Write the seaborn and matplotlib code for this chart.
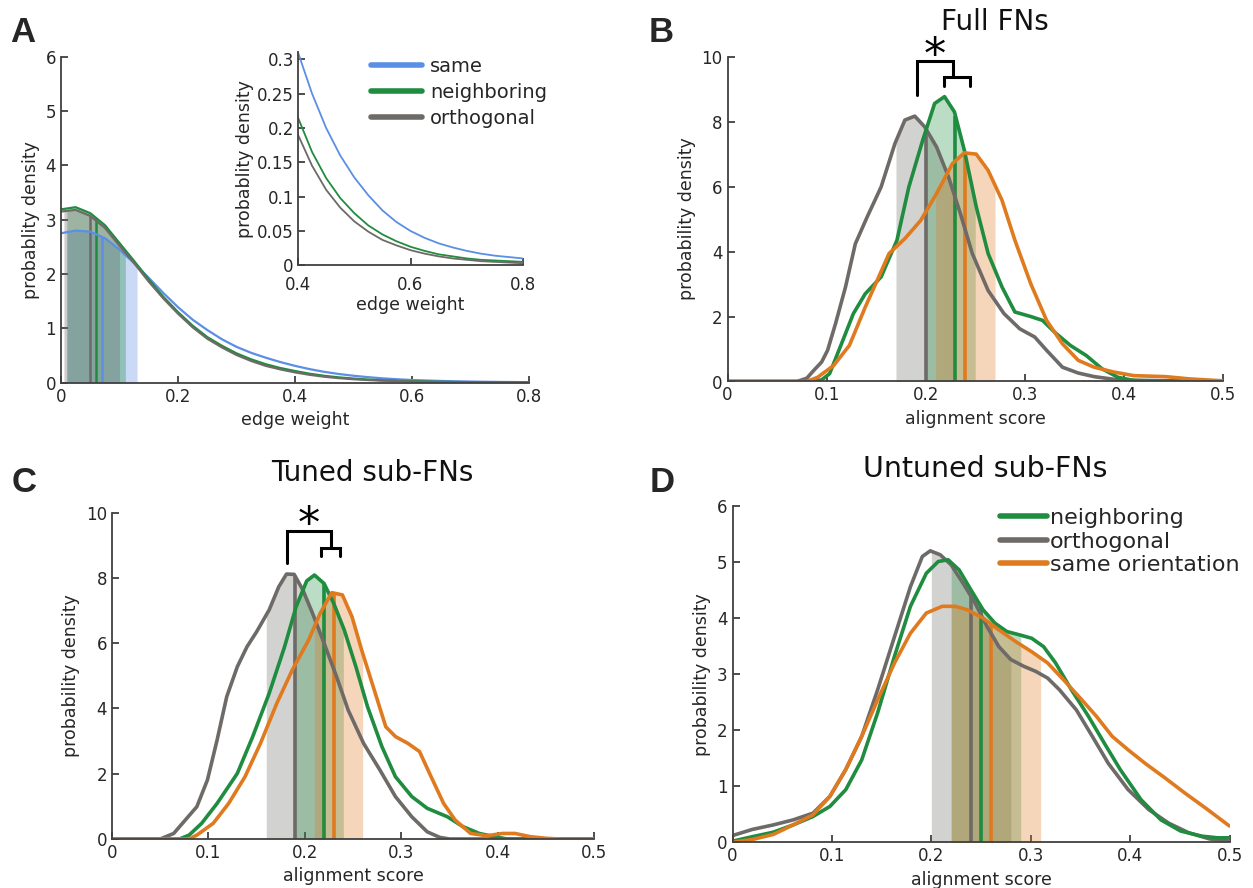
import numpy as np
import pandas as pd
import matplotlib
matplotlib.use("Agg")
import matplotlib.pyplot as plt
import seaborn as sns
from matplotlib.lines import Line2D

# ---------------- data ----------------
# Panel A: edge-weight densities
a_x = [0, .025, .05, .075, .1, .125, .15, .175, .2, .225, .25, .275, .3, .325, .35, .375, .4,
       .425, .45, .475, .5, .525, .55, .575, .6, .625, .65, .675, .7, .725, .75, .775, .8]
a_same = [2.75, 2.80, 2.78, 2.66, 2.45, 2.20, 1.93, 1.65, 1.39, 1.16, 0.97, 0.80, 0.66, 0.55, 0.46, 0.38, 0.31,
          0.25, 0.20, 0.16, 0.128, 0.102, 0.080, 0.063, 0.050, 0.040, 0.032, 0.026, 0.021, 0.017, 0.014, 0.012, 0.010]
a_neigh = [3.19, 3.23, 3.12, 2.90, 2.57, 2.24, 1.90, 1.58, 1.30, 1.05, 0.84, 0.68, 0.54, 0.43, 0.34, 0.27, 0.215,
           0.165, 0.127, 0.098, 0.076, 0.058, 0.045, 0.035, 0.027, 0.021, 0.016, 0.013, 0.010, 0.008, 0.007, 0.006, 0.005]
a_orth = [3.15, 3.18, 3.07, 2.85, 2.52, 2.20, 1.86, 1.55, 1.27, 1.02, 0.81, 0.65, 0.51, 0.40, 0.31, 0.245, 0.19,
          0.145, 0.11, 0.084, 0.064, 0.049, 0.037, 0.029, 0.022, 0.017, 0.013, 0.010, 0.008, 0.006, 0.005, 0.004, 0.003]
a_median = {"same": 0.07, "neighboring": 0.06, "orthogonal": 0.05}
a_range = {"same": (0.01, 0.13), "neighboring": (0.01, 0.11), "orthogonal": (0.005, 0.10)}

# Panel B: Full FNs
b_orth_x = [0, .07, .08, .087, .095, .101, .109, .119, .129, .141, .155, .169, .179, .189, .199, .211, .223, .235,
            .247, .263, .279, .295, .31, .322, .338, .354, .37, .394, .42, .46, .5]
b_orth_y = [0, 0, 0.1, 0.34, 0.6, 0.96, 1.78, 2.9, 4.24, 5.07, 5.99, 7.33, 8.05, 8.17, 7.84, 7.22, 6.3, 5.17,
            3.94, 2.8, 2.09, 1.62, 1.37, 0.96, 0.44, 0.26, 0.15, 0.05, 0.03, 0.02, 0.0]
b_neigh_x = [0, .085, .095, .103, .115, .127, .139, .155, .171, .183, .197, .209, .219, .229, .239, .251, .263,
             .277, .29, .306, .318, .33, .346, .362, .378, .394, .41, .5]
b_neigh_y = [0, 0, 0.05, 0.24, 1.16, 2.09, 2.7, 3.22, 4.35, 5.99, 7.43, 8.56, 8.77, 8.3, 7.12, 5.38, 3.94,
             2.91, 2.14, 2.0, 1.88, 1.52, 1.11, 0.8, 0.39, 0.13, 0.03, 0.0]
b_same_x = [0, .08, .091, .107, .123, .139, .151, .163, .179, .195, .211, .227, .239, .251, .263, .277, .29,
            .306, .322, .338, .354, .37, .39, .41, .442, .466, .5]
b_same_y = [0, 0, 0.13, 0.49, 1.11, 2.29, 3.11, 3.94, 4.4, 4.96, 5.79, 6.71, 7.04, 7.0, 6.5, 5.58, 4.35,
            3.01, 1.88, 1.16, 0.65, 0.44, 0.29, 0.18, 0.15, 0.08, 0.02]
b_median = {"neighboring": 0.23, "orthogonal": 0.20, "same": 0.24}
b_range = {"neighboring": (0.20, 0.25), "orthogonal": (0.17, 0.23), "same": (0.21, 0.27)}

# Panel C: Tuned sub-FNs
c_orth_x = [0, .05, .064, .076, .088, .099, .109, .119, .13, .14, .15, .163, .173, .181, .189, .198, .208, .22,
            .233, .245, .261, .278, .294, .311, .327, .34, .35, .5]
c_orth_y = [0, 0, 0.17, 0.58, 0.99, 1.81, 3.03, 4.36, 5.28, 5.89, 6.35, 7.02, 7.73, 8.12, 8.11, 7.63, 6.92, 6.0,
            4.97, 3.95, 2.93, 2.11, 1.3, 0.68, 0.22, 0.05, 0.0, 0.0]
c_neigh_x = [0, .07, .08, .093, .109, .13, .146, .163, .179, .191, .202, .21, .22, .23, .241, .253, .265, .28,
             .294, .311, .327, .348, .364, .381, .397, .41, .5]
c_neigh_y = [0, 0, 0.12, 0.48, 1.09, 2.01, 3.14, 4.46, 5.89, 7.12, 7.91, 8.09, 7.83, 7.22, 6.4, 5.28, 4.06, 2.83,
             1.91, 1.3, 0.94, 0.68, 0.38, 0.17, 0.07, 0.0, 0.0]
c_same_x = [0, .08, .088, .105, .121, .138, .154, .171, .187, .204, .216, .228, .239, .249, .259, .272, .284,
            .294, .307, .319, .331, .344, .356, .372, .389, .405, .418, .434, .451, .465, .5]
c_same_y = [0, 0, 0.12, 0.48, 1.09, 1.91, 2.93, 4.16, 5.18, 6.1, 6.92, 7.55, 7.48, 6.81, 5.79, 4.57, 3.44,
            3.14, 2.93, 2.68, 1.91, 1.09, 0.58, 0.17, 0.1, 0.17, 0.17, 0.07, 0.02, 0.0, 0.0]
c_median = {"neighboring": 0.22, "orthogonal": 0.19, "same": 0.23}
c_range = {"neighboring": (0.19, 0.24), "orthogonal": (0.16, 0.22), "same": (0.21, 0.26)}

# Panel D: Untuned sub-FNs
d_orth_x = [0, .02, .041, .061, .081, .098, .114, .13, .146, .163, .179, .191, .199, .209, .22, .232, .244, .256,
            .268, .28, .293, .305, .317, .329, .346, .362, .378, .398, .419, .439, .459, .48, .5]
d_orth_y = [0.12, 0.23, 0.31, 0.4, 0.52, 0.82, 1.3, 1.89, 2.72, 3.67, 4.56, 5.1, 5.2, 5.13, 4.95, 4.62, 4.27, 3.85,
            3.49, 3.26, 3.14, 3.05, 2.93, 2.72, 2.36, 1.89, 1.41, 0.94, 0.58, 0.34, 0.17, 0.06, 0.02]
d_neigh_x = [0, .02, .041, .061, .081, .098, .114, .13, .146, .163, .179, .195, .207, .217, .228, .24, .252, .264,
             .276, .289, .301, .313, .325, .341, .358, .374, .39, .411, .431, .451, .472, .488, .5]
d_neigh_y = [0.02, 0.1, 0.18, 0.31, 0.46, 0.64, 0.94, 1.47, 2.31, 3.32, 4.21, 4.8, 5.01, 5.04, 4.86, 4.5, 4.15, 3.91,
             3.76, 3.7, 3.64, 3.49, 3.2, 2.72, 2.25, 1.77, 1.3, 0.76, 0.4, 0.2, 0.11, 0.08, 0.08]
d_same_x = [0, .02, .041, .061, .081, .098, .114, .13, .146, .163, .179, .195, .211, .224, .236, .252, .268, .285,
            .301, .317, .333, .35, .366, .382, .398, .415, .435, .455, .476, .5]
d_same_y = [0.0, 0.05, 0.14, 0.31, 0.49, 0.82, 1.3, 1.89, 2.54, 3.2, 3.73, 4.09, 4.21, 4.21, 4.15, 4.0, 3.79, 3.58,
            3.4, 3.2, 2.9, 2.57, 2.25, 1.89, 1.65, 1.41, 1.15, 0.88, 0.61, 0.29]
d_median = {"neighboring": 0.25, "orthogonal": 0.24, "same": 0.26}
d_range = {"neighboring": (0.22, 0.29), "orthogonal": (0.20, 0.28), "same": (0.22, 0.31)}

a_xticks = [0, 0.2, 0.4, 0.6, 0.8]
a_xticklabels = ["0", "0.2", "0.4", "0.6", "0.8"]
a_yticks = [0, 1, 2, 3, 4, 5, 6]
inset_xticks = [0.4, 0.6, 0.8]
inset_xticklabels = ["0.4", "0.6", "0.8"]
inset_yticks = [0, 0.05, 0.1, 0.15, 0.2, 0.25, 0.3]
inset_yticklabels = ["0", "0.05", "0.1", "0.15", "0.2", "0.25", "0.3"]
s_xticks = [0, 0.1, 0.2, 0.3, 0.4, 0.5]
s_xticklabels = ["0", "0.1", "0.2", "0.3", "0.4", "0.5"]
bc_yticks = [0, 2, 4, 6, 8, 10]
d_yticks = [0, 1, 2, 3, 4, 5, 6]

# ---------------- style ----------------
sns.set_style("ticks")
plt.rcParams["font.family"] = ["DejaVu Sans"]
AX = "#404040"
TXT = "#262626"
plt.rcParams.update({
    "axes.edgecolor": AX, "axes.linewidth": 1.3,
    "xtick.color": AX, "ytick.color": AX,
    "xtick.labelcolor": TXT, "ytick.labelcolor": TXT,
    "xtick.direction": "in", "ytick.direction": "in",
    "xtick.major.size": 5, "ytick.major.size": 5,
    "xtick.major.width": 1.3, "ytick.major.width": 1.3,
    "xtick.labelsize": 12, "ytick.labelsize": 12,
    "axes.labelcolor": TXT, "axes.labelsize": 12.5,
})

C_BLUE = "#5b8ee5"
C_GREEN = "#1f8c3f"
C_GRAY = "#6d6a67"
C_ORANGE = "#e07a1f"

fig = plt.figure(figsize=(12.53, 8.88), dpi=100)
W, H = 1253, 888


def add_ax(left, top, right, bottom):
    return fig.add_axes([left / W, 1 - bottom / H, (right - left) / W, (bottom - top) / H])


def style(ax):
    sns.despine(ax=ax)


def curve(ax, xs, ys, color, lw):
    df = pd.DataFrame({"x": xs, "y": ys})
    sns.lineplot(data=df, x="x", y="y", ax=ax, color=color, linewidth=lw,
                 estimator=None, sort=False, legend=False)


def shade(ax, xs, ys, lo, hi, med, color, alpha, vlw):
    xs = np.asarray(xs, float)
    ys = np.asarray(ys, float)
    m = (xs > lo) & (xs < hi)
    fx = np.concatenate([[lo], xs[m], [hi]])
    fy = np.concatenate([[np.interp(lo, xs, ys)], ys[m], [np.interp(hi, xs, ys)]])
    ax.fill_between(fx, 0, fy, color=color, alpha=alpha, linewidth=0)
    ax.vlines(med, 0, np.interp(med, xs, ys), color=color, linewidth=vlw)


# ---------------- Panel A ----------------
axA = add_ax(61, 56.7, 529, 382.7)
seriesA = [("same", a_same, C_BLUE), ("neighboring", a_neigh, C_GREEN), ("orthogonal", a_orth, C_GRAY)]
for name, ys, col in seriesA:
    lo, hi = a_range[name]
    shade(axA, a_x, ys, lo, hi, a_median[name], col, 0.33, 1.8)
for name, ys, col in seriesA:
    curve(axA, a_x, ys, col, 1.6)
axA.set_xlim(0, 0.8)
axA.set_ylim(0, 6)
axA.set_xticks(a_xticks)
axA.set_xticklabels(a_xticklabels)
axA.set_yticks(a_yticks)
axA.set_xlabel("edge weight")
axA.set_ylabel("probablity density")
style(axA)

axI = add_ax(298, 52.4, 523, 265.3)
for name, ys, col in seriesA:
    curve(axI, a_x, ys, col, 1.3)
axI.set_xlim(0.4, 0.8)
axI.set_ylim(0, 0.31)
axI.set_xticks(inset_xticks)
axI.set_xticklabels(inset_xticklabels)
axI.set_yticks(inset_yticks)
axI.set_yticklabels(inset_yticklabels)
axI.tick_params(axis="x", pad=8)
axI.tick_params(axis="y", pad=3)
axI.set_xlabel("edge weight", labelpad=1)
axI.set_ylabel("probablity density", labelpad=2)
axI.patch.set_alpha(0)
style(axI)

hA = [Line2D([], [], color=c, lw=4) for _, _, c in seriesA]
fig.legend(hA, [n for n, _, _ in seriesA], loc="upper left", bbox_to_anchor=(371 / W, 1 - 57 / H),
           frameon=False, fontsize=14, handlelength=2.6, handletextpad=0.45, labelspacing=0.35,
           borderpad=0, borderaxespad=0)


# ---------------- Panels B, C, D ----------------
def panel(box, ser, medians, ranges, ylim, yticks):
    ax = add_ax(*box)
    for name, xs, ys, col in ser:
        lo, hi = ranges[name]
        shade(ax, xs, ys, lo, hi, medians[name], col, 0.3, 2.6)
    for name, xs, ys, col in ser:
        curve(ax, xs, ys, col, 2.6)
    ax.set_xlim(0, 0.5)
    ax.set_ylim(*ylim)
    ax.set_xticks(s_xticks)
    ax.set_xticklabels(s_xticklabels)
    ax.set_yticks(yticks)
    ax.set_xlabel("alignment score")
    ax.set_ylabel("probability density")
    style(ax)
    return ax


serB = [("orthogonal", b_orth_x, b_orth_y, C_GRAY), ("neighboring", b_neigh_x, b_neigh_y, C_GREEN),
        ("same", b_same_x, b_same_y, C_ORANGE)]
axB = panel((727.5, 56.7, 1223, 381.5), serB, b_median, b_range, (0, 10), bc_yticks)
fig.text(995 / W, 1 - 22 / H, "Full FNs", fontsize=20, ha="center", va="center", color="#111111")

serC = [("orthogonal", c_orth_x, c_orth_y, C_GRAY), ("neighboring", c_neigh_x, c_neigh_y, C_GREEN),
        ("same", c_same_x, c_same_y, C_ORANGE)]
axC = panel((112, 512.7, 594, 839), serC, c_median, c_range, (0, 10), bc_yticks)
fig.text(372 / W, 1 - 473 / H, "Tuned sub-FNs", fontsize=20, ha="center", va="center", color="#111111")

serD = [("orthogonal", d_orth_x, d_orth_y, C_GRAY), ("neighboring", d_neigh_x, d_neigh_y, C_GREEN),
        ("same", d_same_x, d_same_y, C_ORANGE)]
axD = panel((732.5, 506, 1229.5, 842.3), serD, d_median, d_range, (0, 6), d_yticks)
fig.text(985 / W, 1 - 469 / H, "Untuned sub-FNs", fontsize=20.5, ha="center", va="center", color="#111111")

hD = [Line2D([], [], color=C_GREEN, lw=4), Line2D([], [], color=C_GRAY, lw=4), Line2D([], [], color=C_ORANGE, lw=4)]
fig.legend(hD, ["neighboring", "orthogonal", "same orientation"], loc="upper left",
           bbox_to_anchor=(1000 / W, 1 - 508 / H), frameon=False, fontsize=16, handlelength=2.1,
           handletextpad=0.15, labelspacing=0.16, borderpad=0, borderaxespad=0)


# significance brackets
def bracket(ax, xl, xr, ytop, yl, sxl, sxr, ys, yleg, xstar, ystar):
    kw = dict(color="black", linewidth=2.2, clip_on=False, solid_joinstyle="miter")
    ax.plot([xl, xl, xr, xr], [yl, ytop, ytop, ys], **kw)
    ax.plot([sxl, sxl, sxr, sxr], [yleg, ys, ys, yleg], **kw)
    ax.text(xstar, ystar, "*", fontsize=32, ha="center", va="center", color="black", clip_on=False)


bracket(axB, 0.191, 0.2275, 9.88, 8.82, 0.218, 0.245, 9.38, 9.1, 0.209, 10.0)
bracket(axC, 0.182, 0.2276, 9.45, 8.45, 0.217, 0.236, 8.91, 8.67, 0.2045, 9.6)

# panel letters
for lab, x, y in [("A", 23, 32), ("B", 661, 32), ("C", 24, 482), ("D", 662, 482)]:
    fig.text(x / W, 1 - y / H, lab, fontsize=25, fontweight="bold", ha="center", va="center",
             family=["Liberation Sans", "DejaVu Sans"])

fig.savefig("out.png", dpi=100)
